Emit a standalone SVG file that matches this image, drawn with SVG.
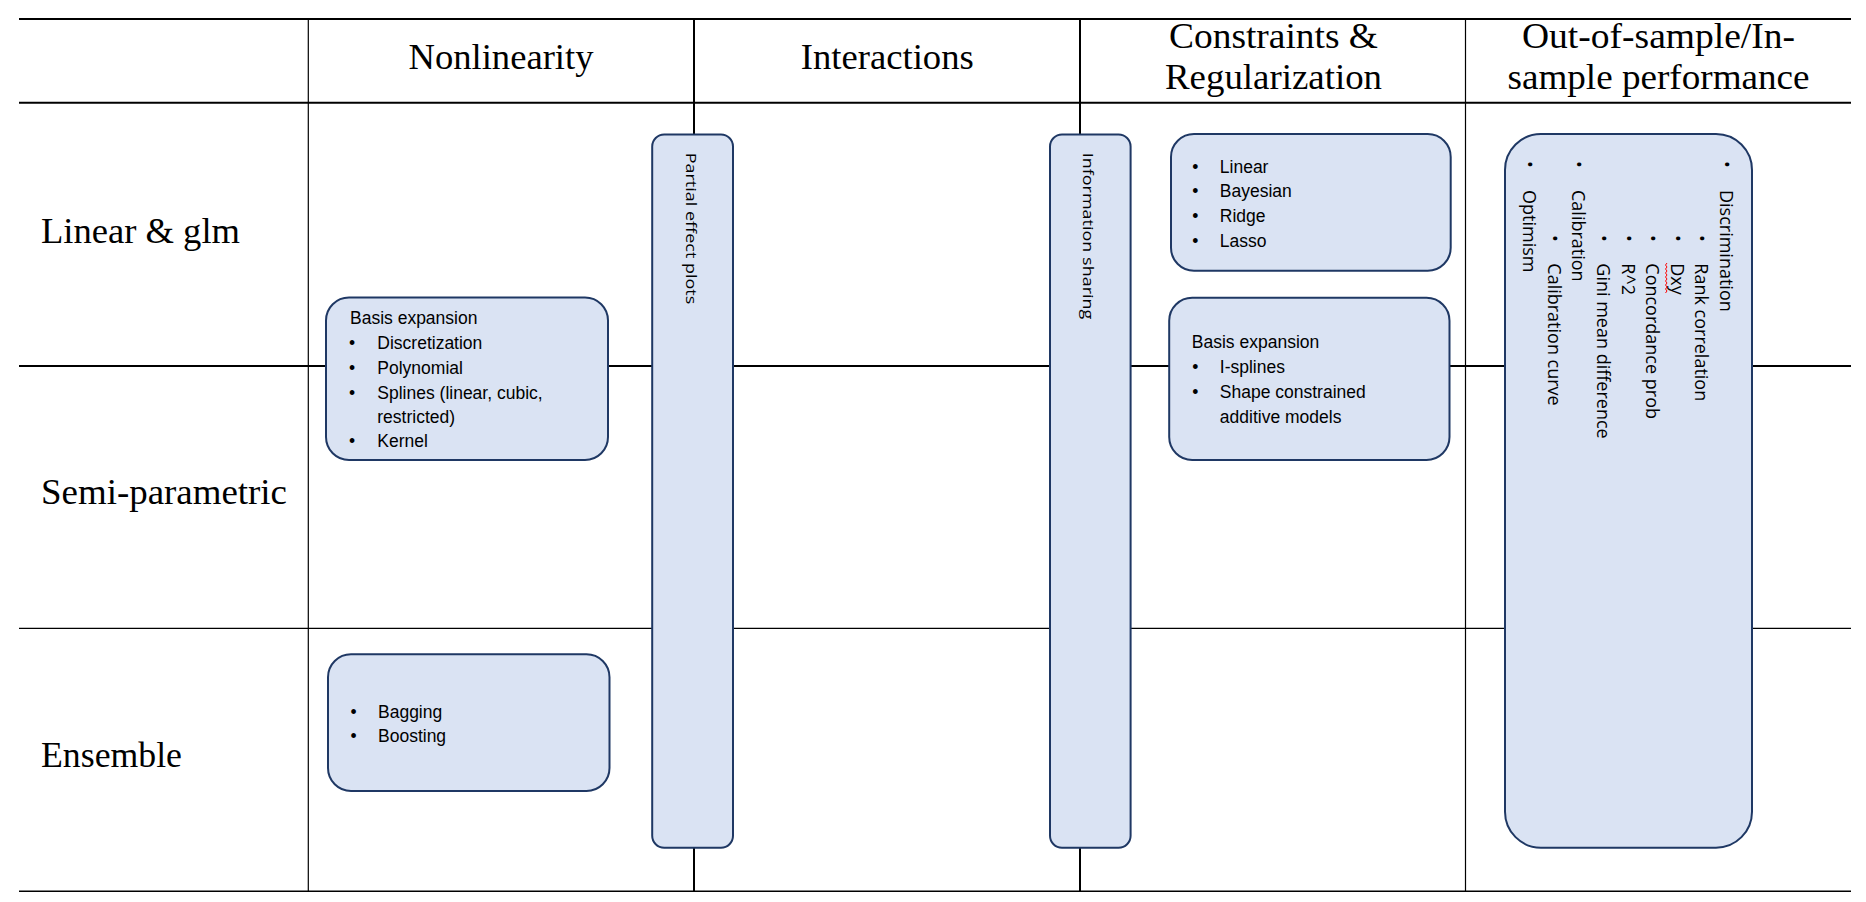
<svg xmlns="http://www.w3.org/2000/svg" width="1866" height="902" viewBox="0 0 1866 902">
<style>
.bg{fill:#ffffff}
.rule{stroke:#000;fill:none}
.box{fill:#DAE3F3;stroke:#1F3864;stroke-width:2}
.hdr{font-family:"Liberation Serif","Times New Roman",serif;font-size:35px;fill:#000}
.hc{text-anchor:middle}
.cal{font-family:"Liberation Sans",Arial,sans-serif;font-size:17.5px;fill:#000}
.rot{font-family:"Open Sans","Noto Sans","DejaVu Sans",sans-serif;font-size:18px;fill:#000}
</style>
<rect class="bg" x="0" y="0" width="1866" height="902"/>

<g id="grid">
<line class="rule" x1="19" y1="19" x2="1851" y2="19" stroke-width="2"/>
<line class="rule" x1="19" y1="102.7" x2="1851" y2="102.7" stroke-width="2"/>
<line class="rule" x1="19" y1="366" x2="1851" y2="366" stroke-width="2"/>
<line class="rule" x1="19" y1="628.3" x2="1851" y2="628.3" stroke-width="1.3"/>
<line class="rule" x1="19" y1="891.3" x2="1851" y2="891.3" stroke-width="1.6"/>
<line class="rule" x1="308.3" y1="19" x2="308.3" y2="891.3" stroke-width="1.2"/>
<line class="rule" x1="694" y1="19" x2="694" y2="891.3" stroke-width="2"/>
<line class="rule" x1="1080" y1="19" x2="1080" y2="891.3" stroke-width="2"/>
<line class="rule" x1="1465.5" y1="19" x2="1465.5" y2="891.3" stroke-width="1.2"/>
</g>

<g id="headers">
<text class="hdr hc" x="501" y="69" textLength="185" lengthAdjust="spacingAndGlyphs">Nonlinearity</text>
<text class="hdr hc" x="887.3" y="69" textLength="173" lengthAdjust="spacingAndGlyphs">Interactions</text>
<text class="hdr hc" x="1273.5" y="48.3" textLength="209" lengthAdjust="spacingAndGlyphs">Constraints &amp;</text>
<text class="hdr hc" x="1273.5" y="89.3" textLength="217" lengthAdjust="spacingAndGlyphs">Regularization</text>
<text class="hdr hc" x="1658.5" y="48.3" textLength="273" lengthAdjust="spacingAndGlyphs">Out-of-sample/In-</text>
<text class="hdr hc" x="1658.5" y="89.3" textLength="302" lengthAdjust="spacingAndGlyphs">sample performance</text>
</g>

<g id="row-labels">
<text class="hdr" x="41" y="243.3" textLength="199" lengthAdjust="spacingAndGlyphs">Linear &amp; glm</text>
<text class="hdr" x="41" y="504.3" textLength="246" lengthAdjust="spacingAndGlyphs">Semi-parametric</text>
<text class="hdr" x="41" y="767" textLength="141" lengthAdjust="spacingAndGlyphs">Ensemble</text>
</g>

<g id="nonlinearity-basis">
<rect class="box" x="326" y="297.5" width="282" height="162.5" rx="23" ry="23"/>
<text class="cal" x="350" y="324.3">Basis expansion</text>
<text class="cal" x="349" y="349.3">•</text><text class="cal" x="377.3" y="349.3">Discretization</text>
<text class="cal" x="349" y="374">•</text><text class="cal" x="377.3" y="374">Polynomial</text>
<text class="cal" x="349" y="399">•</text><text class="cal" x="377.3" y="399">Splines (linear, cubic,</text>
<text class="cal" x="377.3" y="423.3">restricted)</text>
<text class="cal" x="349" y="447.3">•</text><text class="cal" x="377.3" y="447.3">Kernel</text>
</g>

<g id="ensemble-box">
<rect class="box" x="328" y="654.3" width="281.5" height="136.7" rx="23" ry="23"/>
<text class="cal" x="350.5" y="717.5">•</text><text class="cal" x="378" y="717.5">Bagging</text>
<text class="cal" x="350.5" y="742">•</text><text class="cal" x="378" y="742">Boosting</text>
</g>

<g id="partial-effect-plots">
<rect class="box" x="652.2" y="134.5" width="80.8" height="713.2" rx="12" ry="12"/>
<g transform="translate(685.5,152.7) rotate(90) scale(1,0.85)">
<text class="rot" x="0" y="0">Partial effect plots</text>
</g>
</g>

<g id="information-sharing">
<rect class="box" x="1050" y="134.5" width="80.6" height="713.2" rx="12" ry="12"/>
<g transform="translate(1083,152.7) rotate(90) scale(1,0.85)">
<text class="rot" x="0" y="0">Information sharing</text>
</g>
</g>

<g id="regularization-methods">
<rect class="box" x="1171" y="134" width="279.7" height="136.7" rx="23" ry="23"/>
<text class="cal" x="1192.3" y="172.7">•</text><text class="cal" x="1219.8" y="172.7">Linear</text>
<text class="cal" x="1192.3" y="197.4">•</text><text class="cal" x="1219.8" y="197.4">Bayesian</text>
<text class="cal" x="1192.3" y="222">•</text><text class="cal" x="1219.8" y="222">Ridge</text>
<text class="cal" x="1192.3" y="246.7">•</text><text class="cal" x="1219.8" y="246.7">Lasso</text>
</g>

<g id="constraints-basis">
<rect class="box" x="1169.2" y="297.7" width="280.3" height="162.3" rx="23" ry="23"/>
<text class="cal" x="1191.8" y="348.3">Basis expansion</text>
<text class="cal" x="1192.3" y="373.3">•</text><text class="cal" x="1219.8" y="373.3">I-splines</text>
<text class="cal" x="1192.3" y="398">•</text><text class="cal" x="1219.8" y="398">Shape constrained</text>
<text class="cal" x="1219.8" y="422.7">additive models</text>
</g>

<g id="performance">
<rect class="box" x="1505" y="134" width="247" height="713.7" rx="36" ry="36"/>
<g transform="translate(1752,134) rotate(90)" class="rot">
<text x="30.3" y="32" text-anchor="middle">•</text><text x="56" y="32">Discrimination</text>
<text x="104.3" y="56.6" text-anchor="middle">•</text><text x="129.3" y="56.6">Rank correlation</text>
<text x="104.3" y="81.2" text-anchor="middle">•</text><text x="129.3" y="81.2">Dxy</text>
<text x="104.3" y="105.8" text-anchor="middle">•</text><text x="129.3" y="105.8">Concordance prob</text>
<text x="104.3" y="130.4" text-anchor="middle">•</text><text x="129.3" y="130.4">R^2</text>
<text x="104.3" y="155" text-anchor="middle">•</text><text x="129.3" y="155">Gini mean difference</text>
<text x="30.3" y="179.6" text-anchor="middle">•</text><text x="56" y="179.6">Calibration</text>
<text x="104.3" y="204.2" text-anchor="middle">•</text><text x="129.3" y="204.2">Calibration curve</text>
<text x="30.3" y="228.8" text-anchor="middle">•</text><text x="56" y="228.8">Optimism</text>
</g>
<polyline points="1667,263 1665.5,265 1667,267 1665.5,269 1667,271 1665.5,273 1667,275 1665.5,277 1667,279 1665.5,281 1667,283 1665.5,285 1667,287 1665.5,289 1667,291 1665.5,293" fill="none" stroke="#FF0000" stroke-width="1"/>
</g>
</svg>
